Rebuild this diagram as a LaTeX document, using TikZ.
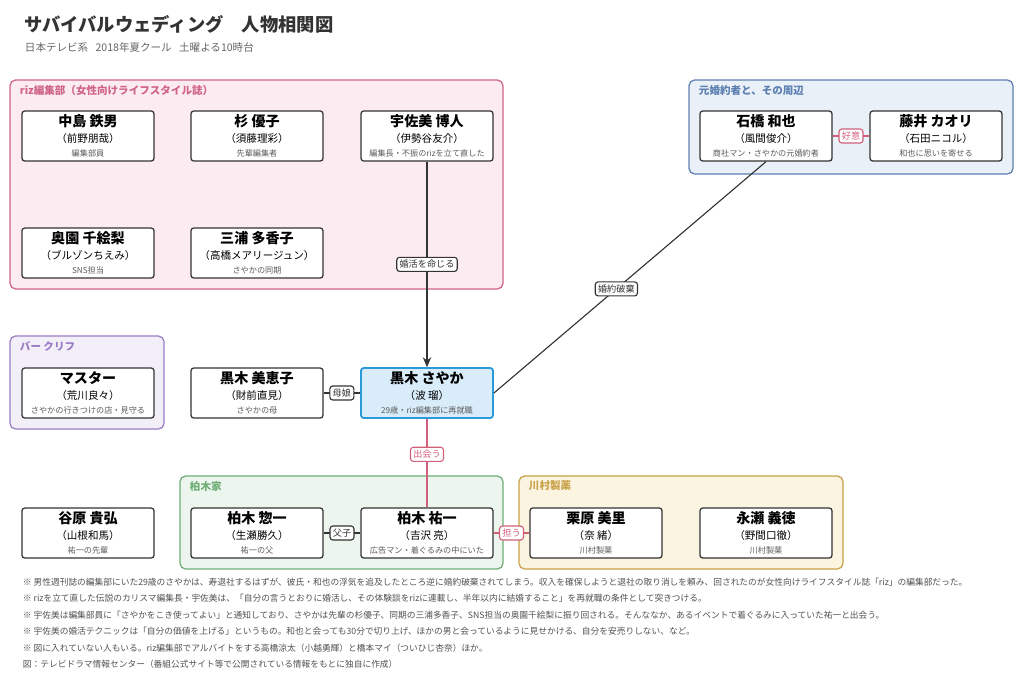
\documentclass[tikz,border=0pt]{standalone}
\usepackage{fontspec}
\setmainfont{Noto Sans CJK JP}
\usetikzlibrary{positioning,arrows.meta}
\definecolor{ink}{HTML}{333333}
\definecolor{pinkfg}{HTML}{D0648A}\definecolor{pinkbg}{HTML}{FCEBF0}
\definecolor{bluefg}{HTML}{5C7FB0}\definecolor{bluebg}{HTML}{EAF0F8}
\definecolor{purfg}{HTML}{9A7CC4}\definecolor{purbg}{HTML}{F3EFF9}
\definecolor{grnfg}{HTML}{6FAE78}\definecolor{grnbg}{HTML}{EDF6EE}
\definecolor{yelfg}{HTML}{C9A24A}\definecolor{yelbg}{HTML}{FBF4E1}
\definecolor{herofg}{HTML}{2A9AD8}\definecolor{herobg}{HTML}{D8ECFA}
\definecolor{redln}{HTML}{D0607A}
\begin{document}
\begin{tikzpicture}[x=0.025cm,y=-0.025cm,
  person/.style={rectangle, draw=ink, line width=0.9pt, rounded corners=2pt, fill=white,
                 minimum width=3.3cm, minimum height=1.25cm, align=center, inner sep=1pt},
  group/.style={draw=#1fg, fill=#1bg, line width=0.9pt, rounded corners=4pt},
  glabel/.style={anchor=west, font=\fontsize{7.5}{9}\selectfont\bfseries, text=#1fg},
  tag/.style={rectangle, draw=ink, fill=white, rounded corners=2pt, inner sep=2pt,
              font=\fontsize{6.5}{8}\selectfont, text=ink},
  rtag/.style={tag, draw=redln, text=redln},
  link/.style={draw=ink, line width=0.8pt},
  note/.style={anchor=west, font=\fontsize{6.2}{7}\selectfont, text=ink!85}
]
\newcommand{\who}[3]{{\fontsize{10}{12}\selectfont\bfseries #1}\\[-1pt]{\fontsize{7.5}{9}\selectfont #2}\\[-2pt]{\fontsize{5.8}{7}\selectfont\color{ink!80}#3}}

\useasboundingbox[fill=white] (0,0) rectangle (1024,687);

% Title
\node[anchor=west, font=\fontsize{13}{15}\selectfont\bfseries, text=ink] (title) at (20,24) {サバイバルウェディング\hspace{1em}人物相関図};
\node[anchor=west, font=\fontsize{7.5}{9}\selectfont, text=ink!75] (sub) at (20,47) {日本テレビ系\hspace{0.7em}2018年夏クール\hspace{0.7em}土曜よる10時台};

% Groups
\draw[group=pink] (10,80) rectangle (503,289);
\node[glabel=pink] (griz) at (15,90) {riz編集部（女性向けライフスタイル誌）};
\draw[group=blue] (689,80) rectangle (1013,174);
\node[glabel=blue] (gex) at (694,90) {元婚約者と、その周辺};
\draw[group=pur] (10,336) rectangle (164,429);
\node[glabel=pur] (gbar) at (15,346) {バー クリフ};
\draw[group=grn] (180,476) rectangle (503,569);
\node[glabel=grn] (gkas) at (185,486) {柏木家};
\draw[group=yel] (519,476) rectangle (843,569);
\node[glabel=yel] (gkaw) at (524,486) {川村製薬};

% People
\node[person] (nakajima) at (88,136) {\who{中島 鉄男}{（前野朋哉）}{編集部員}};
\node[person] (sugi) at (257,136) {\who{杉 優子}{（須藤理彩）}{先輩編集者}};
\node[person] (usami) at (427,136) {\who{宇佐美 博人}{（伊勢谷友介）}{編集長・不振のrizを立て直した}};
\node[person] (okuzono) at (88,253) {\who{奥園 千絵梨}{（ブルゾンちえみ）}{SNS担当}};
\node[person] (miura) at (257,253) {\who{三浦 多香子}{（高橋メアリージュン）}{さやかの同期}};
\node[person] (ishibashi) at (766,136) {\who{石橋 和也}{（風間俊介）}{商社マン・さやかの元婚約者}};
\node[person] (fujii) at (936,136) {\who{藤井 カオリ}{（石田ニコル）}{和也に思いを寄せる}};
\node[person] (master) at (88,393) {\who{マスター}{（荒川良々）}{さやかの行きつけの店・見守る}};
\node[person] (mieko) at (257,393) {\who{黒木 美恵子}{（財前直見）}{さやかの母}};
\node[person, draw=herofg, fill=herobg, line width=1.3pt] (sayaka) at (427,393) {\who{黒木 さやか}{（波 瑠）}{29歳・riz編集部に再就職}};
\node[person] (tanihara) at (88,533) {\who{谷原 貴弘}{（山根和馬）}{祐一の先輩}};
\node[person] (soichi) at (257,533) {\who{柏木 惣一}{（生瀬勝久）}{祐一の父}};
\node[person] (yuichi) at (427,533) {\who{柏木 祐一}{（吉沢 亮）}{広告マン・着ぐるみの中にいた}};
\node[person] (kurihara) at (596,533) {\who{栗原 美里}{（奈 緒）}{川村製薬}};
\node[person] (nagase) at (766,533) {\who{永瀬 義徳}{（野間口徹）}{川村製薬}};

% Connectors
\draw[link, -{Stealth[length=7pt,width=6pt]}] (usami) -- node[tag] {婚活を命じる} (sayaka);
\draw[link] (ishibashi.south) -- node[tag, pos=0.55] {婚約破棄} (sayaka.east);
\draw[link, draw=redln] (ishibashi) -- node[rtag] {好意} (fujii);
\draw[link] (mieko) -- node[tag] {母娘} (sayaka);
\draw[link, draw=redln] (sayaka) -- node[rtag, pos=0.4] {出会う} (yuichi);
\draw[link] (soichi) -- node[tag] {父子} (yuichi);
\draw[link, draw=redln] (yuichi) -- node[rtag, pos=0.5] {担う} (kurihara);

% Notes
\node[note] (n1) at (18,582) {※ 男性週刊誌の編集部にいた29歳のさやかは、寿退社するはずが、彼氏・和也の浮気を追及したところ逆に婚約破棄されてしまう。収入を確保しようと退社の取り消しを頼み、回されたのが女性向けライフスタイル誌「riz」の編集部だった。};
\node[note] (n2) at (18,598.5) {※ rizを立て直した伝説のカリスマ編集長・宇佐美は、「自分の言うとおりに婚活し、その体験談をrizに連載し、半年以内に結婚すること」を再就職の条件として突きつける。};
\node[note] (n3) at (18,615) {※ 宇佐美は編集部員に「さやかをこき使ってよい」と通知しており、さやかは先輩の杉優子、同期の三浦多香子、SNS担当の奥園千絵梨に振り回される。そんななか、あるイベントで着ぐるみに入っていた祐一と出会う。};
\node[note] (n4) at (18,631.5) {※ 宇佐美の婚活テクニックは「自分の価値を上げる」というもの。和也と会っても30分で切り上げ、ほかの男と会っているように見せかける、自分を安売りしない、など。};
\node[note] (n5) at (18,648) {※ 図に入れていない人もいる。riz編集部でアルバイトをする高橋涼太（小越勇輝）と橋本マイ（ついひじ杏奈）ほか。};
\node[note] (n6) at (18,664.5) {図：テレビドラマ情報センター（番組公式サイト等で公開されている情報をもとに独自に作成）};
\end{tikzpicture}
\end{document}
